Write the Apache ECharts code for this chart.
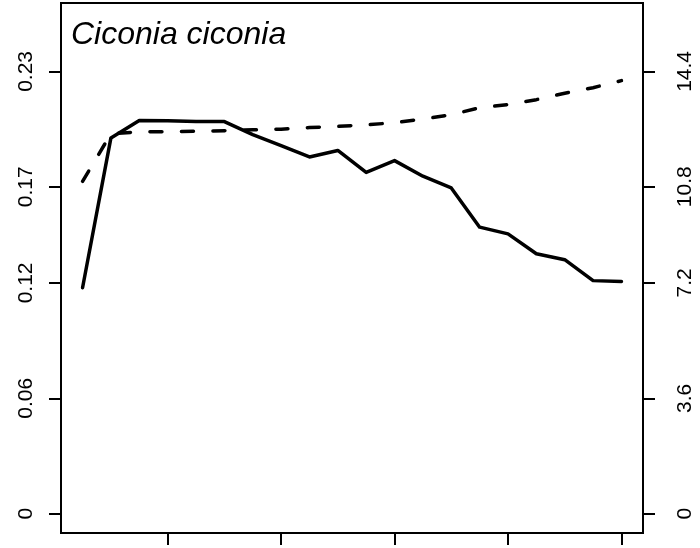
<!DOCTYPE html>
<html>
<head>
<meta charset="utf-8">
<script src="https://cdn.jsdelivr.net/npm/echarts@6/dist/echarts.min.js"></script>
<style>
  html, body { margin: 0; padding: 0; background: #fff; }
  #chart1 { width: 700px; height: 548px; }
</style>
</head>
<body>
<div id="chart1"></div>
<script>
// x positions (years), ticks every 4th
var years = [1, 2, 3, 4, 5, 6, 7, 8, 9, 10, 11, 12, 13, 14, 15, 16, 17, 18, 19, 20];
var xTicks = [4, 8, 12, 16, 20];

// solid line, left axis
var solidVals = [0.1175, 0.1954, 0.2045, 0.2044, 0.2039, 0.2039, 0.1971, 0.1914, 0.1855, 0.1889,
                 0.1775, 0.1836, 0.1755, 0.1694, 0.1490, 0.1455, 0.1352, 0.1321, 0.1212, 0.1208];
// dashed line, right axis
var dashedVals = [10.82, 12.37, 12.43, 12.44, 12.45, 12.47, 12.50, 12.52, 12.57, 12.61,
                  12.66, 12.73, 12.85, 12.99, 13.22, 13.32, 13.48, 13.69, 13.87, 14.10];

// tick positions / labels
var leftTicks = [0, 0.06, 0.12, 0.17, 0.23];
var rightLabels = ["0", "3.6", "7.2", "10.8", "14.4"];

var ratio = 14.4 / 0.23; // right axis units per left unit
var leftMin = -0.01004, leftMax = 0.26557;
var rightTicks = leftTicks.map(function(v) { return v * ratio; });

var font = "Liberation Sans, Arial, Helvetica, sans-serif";

var myChart = echarts.init(document.getElementById("chart1"));
myChart.setOption({
  animation: false,
  backgroundColor: "#fff",
  title: {
    text: "Ciconia ciconia",
    left: 66,
    top: 14,
    textStyle: {
      color: "#000",
      fontFamily: font,
      fontStyle: "italic",
      fontWeight: "normal",
      fontSize: 32
    }
  },
  grid: {
    left: 61,
    right: 57,
    top: 3,
    bottom: 15,
    show: true,
    borderColor: "#000",
    borderWidth: 2,
    backgroundColor: "transparent"
  },
  xAxis: {
    type: "value",
    min: 0.24,
    max: 20.76,
    splitLine: { show: false },
    axisLine: { show: false, onZero: false },
    axisTick: {
      show: true,
      length: 12,
      customValues: xTicks,
      lineStyle: { color: "#000", width: 2 }
    },
    axisLabel: { show: false }
  },
  yAxis: [
    {
      type: "value",
      position: "left",
      min: leftMin,
      max: leftMax,
      splitLine: { show: false },
      axisLine: { show: false, onZero: false },
      axisTick: {
        show: true,
        length: 12,
        customValues: leftTicks,
        lineStyle: { color: "#000", width: 2 }
      },
      axisLabel: {
        customValues: leftTicks,
        rotate: 90,
        margin: 24,
        color: "#000",
        fontFamily: font,
        fontSize: 21,
        formatter: function(v) { return String(Math.round(v * 100) / 100); }
      }
    },
    {
      type: "value",
      position: "right",
      min: leftMin * ratio,
      max: leftMax * ratio,
      splitLine: { show: false },
      axisLine: { show: false, onZero: false },
      axisTick: {
        show: true,
        length: 12,
        customValues: rightTicks,
        lineStyle: { color: "#000", width: 2 }
      },
      axisLabel: {
        customValues: rightTicks,
        rotate: 90,
        margin: 32,
        color: "#000",
        fontFamily: font,
        fontSize: 21,
        formatter: function(v) {
          var best = 0;
          rightTicks.forEach(function(t, i) {
            if (Math.abs(t - v) < Math.abs(rightTicks[best] - v)) best = i;
          });
          return rightLabels[best];
        }
      }
    }
  ],
  series: [
    {
      type: "line",
      yAxisIndex: 0,
      data: years.map(function(x, i) { return [x, solidVals[i]]; }),
      showSymbol: false,
      lineStyle: { color: "#000", width: 3.5, cap: "round", join: "round" }
    },
    {
      type: "line",
      yAxisIndex: 1,
      data: years.map(function(x, i) { return [x, dashedVals[i]]; }),
      showSymbol: false,
      lineStyle: { color: "#000", width: 3.5, type: [12, 19.5], cap: "round", join: "round" }
    }
  ]
});
</script>
</body>
</html>
